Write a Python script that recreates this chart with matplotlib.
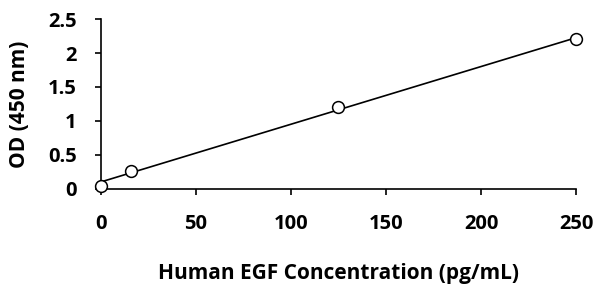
"""Standard curve for human EGF ELISA."""
import numpy as np
from matplotlib import pyplot as plt

# Standard concentrations (pg/mL) and measured OD at 450 nm
conc = [0, 15.6, 125, 250]
od = [0.05, 0.27, 1.21, 2.20]

x_ticks = [0, 50, 100, 150, 200, 250]
y_ticks = [0, 0.5, 1, 1.5, 2, 2.5]
y_tick_labels = ['0', '0.5', '1', '1.5', '2', '2.5']

FONT = 'Open Sans'

plt.rcParams['font.family'] = [FONT, 'DejaVu Sans']
plt.rcParams['font.weight'] = 'bold'

fig = plt.figure(figsize=(5.99, 2.88), dpi=100)
fig.patch.set_facecolor('white')
ax = fig.add_axes([0.1686, 0.3438, 0.7930, 0.5902])

# Linear trendline through the standards
slope, intercept = np.polyfit(conc, od, 1)
fit_x = np.array([0, 250])
ax.plot(fit_x, slope * fit_x + intercept, color='black', linewidth=1.2, zorder=2)
ax.plot(conc, od, linestyle='none', marker='o', markersize=8.5,
        markerfacecolor='white', markeredgecolor='black', markeredgewidth=1.1,
        zorder=3, clip_on=False)

ax.set_xlim(0, 250)
ax.set_ylim(0, 2.5)
ax.set_xticks(x_ticks)
ax.set_yticks(y_ticks)
ax.set_yticklabels(y_tick_labels)

for side in ['top', 'right']:
    ax.spines[side].set_visible(False)
for side in ['left', 'bottom']:
    ax.spines[side].set_linewidth(1.2)

ax.tick_params(axis='x', direction='out', length=4, width=1.2, pad=14, labelsize=14.5)
ax.tick_params(axis='y', direction='out', length=4.5, width=1.2, pad=13, labelsize=14.5)
for lbl in ax.get_xticklabels() + ax.get_yticklabels():
    lbl.set_fontweight('bold')

ax.set_xlabel('Human EGF Concentration (pg/mL)', fontsize=15, fontweight='bold', labelpad=21)
ax.set_ylabel('OD (450 nm)', fontsize=15, fontweight='bold', labelpad=13)

plt.savefig('out.png', dpi=100, facecolor='white')
